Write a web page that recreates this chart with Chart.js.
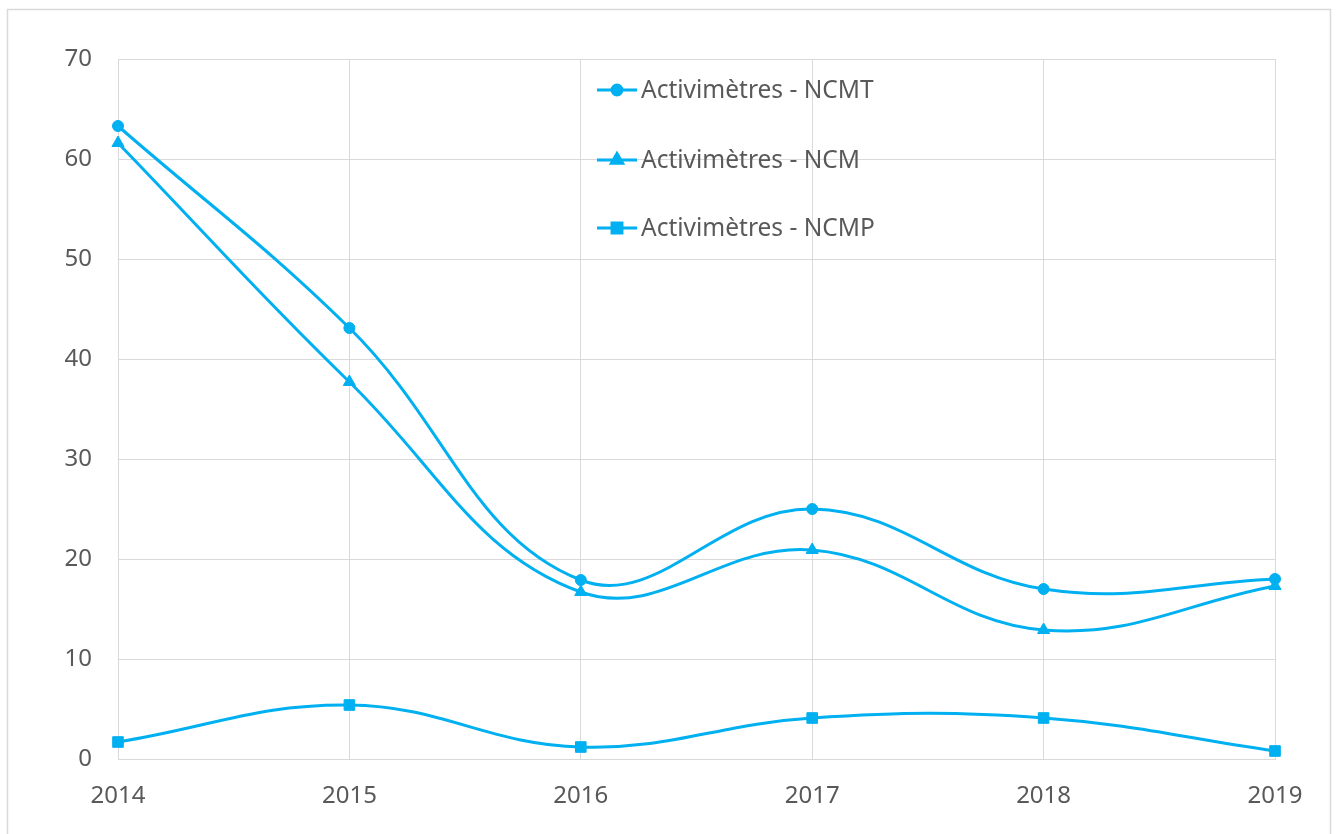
<!DOCTYPE html>
<html>
<head>
<meta charset="utf-8">
<script src="https://cdn.jsdelivr.net/npm/chart.js@4/dist/chart.umd.min.js"></script>
<style>
  html, body { margin: 0; padding: 0; background: #fff; }
  #wrap { position: relative; width: 1337px; height: 834px; }
</style>
</head>
<body>
<div id="wrap"><canvas id="chart" width="1337" height="834"></canvas></div>
<script>
// values
const years = ["2014", "2015", "2016", "2017", "2018", "2019"];
const ncmt = [63.3, 43.1, 17.9, 25.0, 17.0, 18.0];
const ncm = [61.6, 37.7, 16.7, 20.9, 12.9, 17.3];
const ncmp = [1.7, 5.4, 1.2, 4.1, 4.1, 0.8];
const seriesNames = ["Activimètres - NCMT", "Activimètres - NCM", "Activimètres - NCMP"];

const BLUE = "#00B0F0";
const GRID = "#d9d9d9";
const TEXT = "#595959";
const FONT = "'Noto Sans', 'Open Sans', sans-serif";

// draws the outer frame and the in-plot legend like the original
const framePlugin = {
  id: "frame",
  beforeDraw(chart) {
    const ctx = chart.ctx;
    ctx.save();
    ctx.strokeStyle = GRID;
    ctx.lineWidth = 1.5;
    ctx.strokeRect(7.5, 9.5, 1323, 830);
    ctx.restore();
  },
  afterDraw(chart) {
    const ctx = chart.ctx;
    const rows = [90, 160, 228];
    ctx.save();
    chart.data.datasets.forEach((ds, i) => {
      const y = rows[i];
      ctx.strokeStyle = BLUE;
      ctx.lineWidth = 3;
      ctx.beginPath();
      ctx.moveTo(597, y);
      ctx.lineTo(637, y);
      ctx.stroke();
      ctx.fillStyle = BLUE;
      Chart.helpers.drawPoint(ctx, {
        pointStyle: ds.pointStyle,
        radius: ds.pointRadius - 0.5,
        borderWidth: 1
      }, 617, y);
      ctx.fillStyle = TEXT;
      ctx.font = "24.5px " + FONT;
      ctx.textBaseline = "middle";
      ctx.textAlign = "left";
      ctx.fillText(ds.label, 641, y + 1);
    });
    ctx.restore();
  }
};

const makeSet = (label, data, style, r) => ({
  label: label,
  data: data,
  borderColor: BLUE,
  backgroundColor: BLUE,
  borderWidth: 3,
  pointStyle: style,
  pointRadius: r,
  pointBorderWidth: 1,
  tension: 0.4,
  fill: false
});

new Chart(document.getElementById("chart"), {
  type: "line",
  data: {
    labels: years,
    datasets: [
      makeSet(seriesNames[0], ncmt, "circle", 5.5),
      makeSet(seriesNames[1], ncm, "triangle", 7),
      makeSet(seriesNames[2], ncmp, "rect", 7.5)
    ]
  },
  options: {
    responsive: false,
    animation: false,
    layout: { padding: { left: 0, top: 59, right: 62, bottom: 0 } },
    plugins: {
      legend: { display: false },
      tooltip: { enabled: false }
    },
    scales: {
      x: {
        offset: false,
        grid: { color: GRID, lineWidth: 1, drawTicks: false },
        border: { color: GRID, width: 1 },
        ticks: { color: TEXT, font: { size: 24, family: FONT }, padding: 23, maxRotation: 0 },
        afterFit: (s) => { s.height = 75; }
      },
      y: {
        min: 0,
        max: 70,
        grid: { color: GRID, lineWidth: 1, drawTicks: false },
        border: { color: GRID, width: 1 },
        ticks: { stepSize: 10, color: TEXT, font: { size: 24, family: FONT }, padding: 26 },
        afterFit: (s) => { s.width = 118; }
      }
    }
  },
  plugins: [framePlugin]
});
</script>
</body>
</html>
